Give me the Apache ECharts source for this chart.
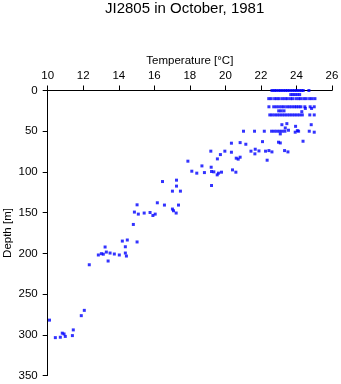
<!DOCTYPE html>
<html>
<head>
<meta charset="utf-8">
<script src="https://cdn.jsdelivr.net/npm/echarts@6/dist/echarts.min.js"></script>
<style>
html,body{margin:0;padding:0;background:#fff;}
#chart{width:341px;height:384px;}
</style>
</head>
<body>
<div id="chart"></div>
<script>
// Temperature (°C) and depth (m) of each sample
var temperature = [
  10.10, 10.43, 10.71, 10.82, 10.92, 10.99, 11.39, 11.44, 11.89, 12.06,
  12.34, 12.85, 13.02, 13.13, 13.23, 13.30, 13.51, 13.75, 13.40, 14.03,
  14.20, 14.37, 14.37, 14.43, 14.48, 14.82, 15.03, 14.88, 15.10, 15.03,
  15.43, 15.76, 15.92, 16.05, 16.17, 16.57, 16.46, 17.02, 17.25, 17.25,
  17.47, 17.02, 17.08, 17.23, 17.36, 17.89, 18.11, 18.39, 18.82, 18.68,
  19.20, 19.22, 19.35, 19.61, 19.78, 19.54, 19.22, 19.18, 19.72, 19.55,
  19.97, 20.34, 20.34, 20.83, 21.15, 20.61, 20.83, 20.72, 20.40, 20.59,
  21.02, 21.64, 22.19, 22.09, 21.44, 21.68, 21.89, 21.66, 22.26, 22.45,
  22.35, 22.62, 23.33, 23.52, 22.99, 23.09, 24.37,
  23.18, 23.46, 23.37, 23.09, 22.60, 22.75, 22.90, 23.05, 23.20, 23.35,
  23.55, 23.95, 24.05, 23.93, 24.12, 24.72, 25.00, 24.83,
  22.62, 22.75, 22.86, 23.00, 23.12, 23.25, 23.38, 23.50, 23.63, 23.77,
  23.90, 24.02, 24.15, 24.28, 24.38, 24.70,
  23.68, 23.80, 23.92, 24.05, 24.18,
  22.44, 22.58, 22.77, 22.90, 23.03, 23.21, 23.36, 23.49, 23.66, 23.78,
  23.97, 24.12, 24.24, 24.41, 24.55, 24.74, 24.88, 25.04,
  22.45, 22.72, 22.87, 23.02, 23.17, 23.30, 23.46, 23.60, 23.74, 23.88,
  24.00, 24.13, 24.25, 24.47, 24.77, 25.00,
  23.00, 23.14, 23.30,
  22.50, 22.63, 22.78, 22.92, 23.06, 23.20, 23.34, 23.48, 23.62, 23.76,
  23.90, 24.04, 24.18, 24.33, 24.75, 25.00,
  24.30, 24.50, 24.85
];
var depth = [
  282.0, 303.5, 303.0, 298.0, 299.0, 302.0, 301.0, 294.0, 276.5, 270.0,
  214.0, 202.0, 200.4, 201.0, 192.2, 198.4, 199.6, 200.8, 209.4, 202.0,
  184.9, 191.9, 199.6, 203.3, 183.6, 164.5, 186.0, 149.3, 151.8, 140.4,
  150.5, 149.8, 153.5, 151.8, 137.9, 140.7, 111.8, 123.6, 110.1, 117.4,
  123.6, 145.6, 147.7, 150.5, 140.7, 86.8, 99.1, 101.5, 100.8, 92.6,
  94.2, 99.5, 99.9, 101.5, 100.3, 103.6, 116.7, 74.5, 78.7, 84.0,
  74.5, 64.7, 75.8, 64.0, 66.0, 83.1, 81.9, 84.3, 97.5, 100.3,
  50.0, 50.0, 50.0, 62.8, 74.5, 72.1, 74.2, 77.8, 74.5, 73.8,
  85.6, 75.4, 73.8, 75.4, 63.5, 64.4, 62.3,
  42.0, 40.7, 46.0, 53.3, 50.0, 50.0, 50.0, 50.0, 50.0, 50.0,
  48.8, 44.0, 49.3, 51.2, 50.0, 50.0, 51.2, 42.0,
  0, 0, 0, 0, 0, 0, 0, 0, 0, 0,
  0, 0, 0, 0, 0, 0,
  5, 5, 5, 5, 5,
  10, 10, 10, 10, 10, 10, 10, 10, 10, 10,
  10, 10, 10, 10, 10, 10, 10, 10,
  20, 20, 20, 20, 20, 20, 20, 20, 20, 20,
  20, 20, 20, 20, 20, 20,
  25, 25, 25,
  30, 30, 30, 30, 30, 30, 30, 30, 30, 30,
  30, 30, 30, 30, 30, 30,
  26, 22, 22
];
var tempTicks = [10, 12, 14, 16, 18, 20, 22, 24, 26];
var depthTicks = [0, 50, 100, 150, 200, 250, 300, 350];

var points = temperature.map(function (t, i) { return [t, depth[i]]; });

var chart = echarts.init(document.getElementById('chart'), null, {renderer: 'canvas'});
var font = 'Liberation Sans, Arial, Helvetica, sans-serif';
chart.setOption({
  animation: false,
  backgroundColor: '#ffffff',
  title: {
    text: 'JI2805 in October, 1981',
    left: 105,
    top: 1,
    padding: 0,
    textStyle: {fontFamily: font, fontSize: 15, fontWeight: 'normal', color: '#000'}
  },
  grid: {left: 47.7, right: 9, top: 90.5, bottom: 8.5, containLabel: false, outerBoundsMode: 'none'},
  xAxis: {
    type: 'value',
    position: 'top',
    min: tempTicks[0],
    max: tempTicks[tempTicks.length - 1],
    interval: 2,
    name: 'Temperature [°C]',
    nameLocation: 'middle',
    nameGap: 24,
    nameMoveOverlap: false,
    nameTextStyle: {fontFamily: font, fontSize: 11.5, color: '#000'},
    axisLine: {lineStyle: {color: '#000', width: 1}},
    axisTick: {length: 5, lineStyle: {color: '#000'}},
    axisLabel: {fontFamily: font, fontSize: 11.5, color: '#000', margin: 9},
    splitLine: {show: false}
  },
  yAxis: {
    type: 'value',
    inverse: true,
    min: depthTicks[0],
    max: depthTicks[depthTicks.length - 1],
    interval: 50,
    name: 'Depth [m]',
    nameLocation: 'middle',
    nameGap: 34,
    nameMoveOverlap: false,
    nameTextStyle: {fontFamily: font, fontSize: 11.5, color: '#000'},
    axisLine: {show: true, lineStyle: {color: '#000', width: 1}},
    axisTick: {show: true, length: 5, lineStyle: {color: '#000'}},
    axisLabel: {fontFamily: font, fontSize: 11.5, color: '#000', margin: 10},
    splitLine: {show: false}
  },
  series: [{
    type: 'scatter',
    data: points,
    symbol: 'rect',
    symbolSize: 3,
    itemStyle: {color: '#0000ff'},
    clip: false
  }]
});
</script>
</body>
</html>
